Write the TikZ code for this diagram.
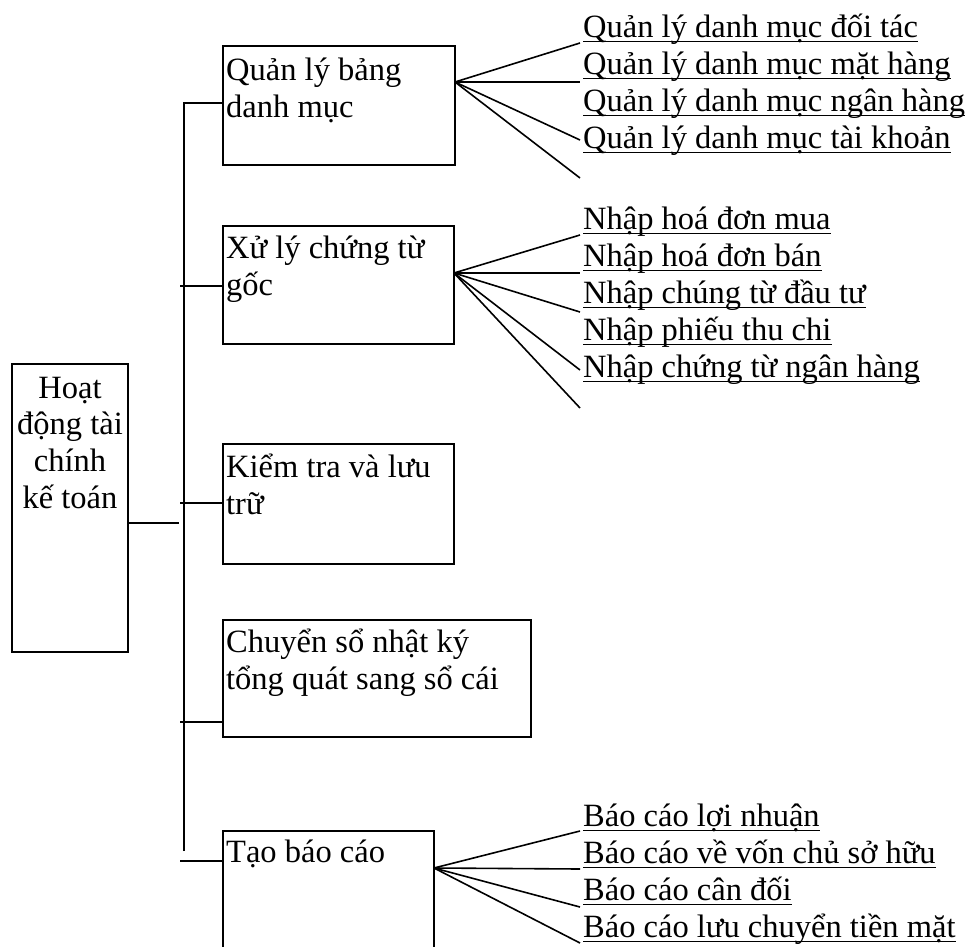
\documentclass[tikz,border=0pt]{standalone}
\usepackage{fontspec}
\setmainfont{Liberation Serif}
\usetikzlibrary{calc}
\newcommand\Lt[1]{\vtop{\baselineskip=37pt\lineskiplimit=-100pt\halign{##\hfil\cr#1\crcr}}}
\newcommand\Ct[1]{\vtop{\baselineskip=36.7pt\lineskiplimit=-100pt\halign{\hfil##\hfil\cr#1\crcr}}}
\begin{document}
\begin{tikzpicture}[x=1pt,y=-1pt,
  box/.style={draw, line width=1.8pt, inner sep=0, outer sep=0},
  ln/.style={line width=1.6pt},
  txt/.style={anchor=base west, inner sep=0, font=\fontsize{32.5pt}{37pt}\selectfont},
  ctxt/.style={anchor=base, inner sep=0, font=\fontsize{32.5pt}{37pt}\selectfont},
  item/.style={anchor=base west, inner sep=0, font=\fontsize{32.5pt}{37pt}\selectfont},
  ul/.style={line width=1.6pt}]
\clip (0,0) rectangle (970,946);
\fill[white] (0,0) rectangle (970,946);
% boxes
\node[box, minimum width=116pt, minimum height=288pt] (root) at (70,508) {};
\node[box, minimum width=232pt, minimum height=119pt] (b1) at (339,105.5) {};
\node[box, minimum width=231pt, minimum height=118pt] (b2) at (338.5,285) {};
\node[box, minimum width=231pt, minimum height=120pt] (b3) at (338.5,504) {};
\node[box, minimum width=308pt, minimum height=117pt] (b4) at (377,678.5) {};
\node[box, minimum width=211pt, minimum height=169pt] (b5) at (328.5,915.5) {};
% box texts
\node[ctxt] (troot) at (70,398) {\Ct{Hoạt\cr động tài\cr chính\cr kế toán}};
\node[txt] (t1) at (226,80) {\Lt{Quản lý bảng\cr danh mục}};
\node[txt] (t2) at (226,258) {\Lt{Xử lý chứng từ\cr gốc}};
\node[txt] (t3) at (226,477) {\Lt{Kiểm tra và lưu\cr trữ}};
\node[txt] (t4) at (226,652) {\Lt{Chuyển sổ nhật ký\cr tổng quát sang sổ cái}};
\node[txt] (t5) at (226,862) {Tạo báo cáo};
% trunk and branches
\coordinate (tTop) at (184,103);
\coordinate (tBot) at (184,851);
\coordinate (rj) at (179,523);
\coordinate (s2) at (180,286);
\coordinate (s3) at (180,503);
\coordinate (s4) at (180,722);
\coordinate (s5) at (180,861);
\draw[ln] (root.east |- rj) -- (rj);
\draw[ln] (tBot) -- (tTop) -- (b1.west |- tTop);
\draw[ln] (s2) -- (b2.west |- s2);
\draw[ln] (s3) -- (b3.west |- s3);
\draw[ln] (s4) -- (b4.west |- s4);
\draw[ln] (s5) -- (b5.west |- s5);
% items group 1
\node[item] (i11) at (583,37) {Quản lý danh mục đối tác};
\node[item] (i12) at (583,74) {Quản lý danh mục mặt hàng};
\node[item] (i13) at (583,111) {Quản lý danh mục ngân hàng};
\node[item] (i14) at (583,148) {Quản lý danh mục tài khoản};
% items group 2
\node[item] (i21) at (583,229) {Nhập hoá đơn mua};
\node[item] (i22) at (583,266) {Nhập hoá đơn bán};
\node[item] (i23) at (583,303) {Nhập chúng từ đầu tư};
\node[item] (i24) at (583,340) {Nhập phiếu thu chi};
\node[item] (i25) at (583,377) {Nhập chứng từ ngân hàng};
% items group 3
\node[item] (i31) at (583,826) {Báo cáo lợi nhuận};
\node[item] (i32) at (583,863) {Báo cáo về vốn chủ sở hữu};
\node[item] (i33) at (583,900) {Báo cáo cân đối};
\node[item] (i34) at (583,937) {Báo cáo lưu chuyển tiền mặt};
\foreach \n in {i11,i12,i13,i14,i21,i22,i23,i24,i25,i31,i32,i33,i34}
  \draw[ul] ([yshift=-4.5pt]\n.base west) -- ([yshift=-4.5pt]\n.base east);
% fans
\coordinate (f1) at ($(b1.north east)+(0,36)$);
\coordinate (f2) at ($(b2.north east)+(0,47)$);
\coordinate (f5) at ($(b5.north east)+(0,37)$);
\coordinate (e11) at (580,43);
\coordinate (e12) at (580,82);
\coordinate (e13) at (580,140);
\coordinate (e14) at (580,178);
\coordinate (e21) at (580,235);
\coordinate (e22) at (580,273);
\coordinate (e23) at (580,312);
\coordinate (e24) at (580,370);
\coordinate (e25) at (580,408);
\coordinate (e31) at (580,831);
\coordinate (e32) at (580,869);
\coordinate (e33) at (580,907);
\coordinate (e34) at (580,943);
\foreach \e in {e11,e12,e13,e14} \draw[ln] (f1) -- (\e);
\foreach \e in {e21,e22,e23,e24,e25} \draw[ln] (f2) -- (\e);
\foreach \e in {e31,e32,e33,e34} \draw[ln] (f5) -- (\e);
\end{tikzpicture}
\end{document}
